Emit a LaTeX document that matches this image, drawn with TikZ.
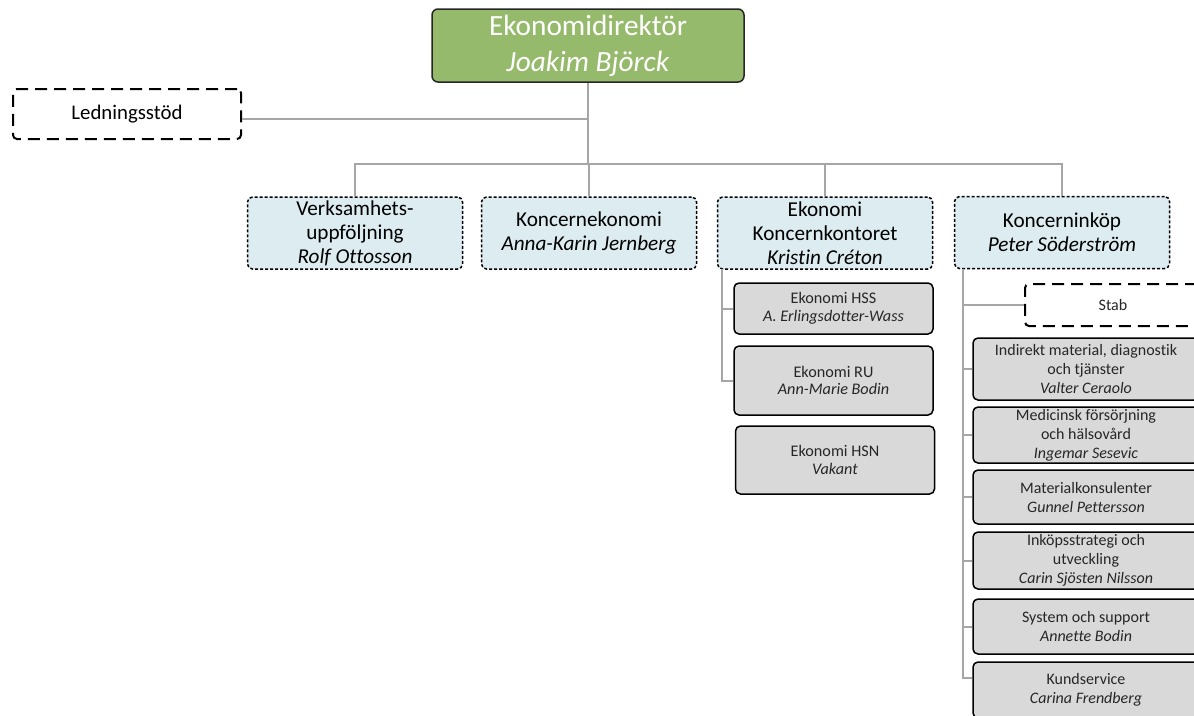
\documentclass[tikz,border=0pt]{standalone}
\usepackage{fontspec}
\setmainfont{Carlito}[Ligatures={NoCommon}]
\usepackage{tikz}
\usetikzlibrary{calc}
\definecolor{chefgreen}{RGB}{150, 186, 108}
\definecolor{unitblue}{RGB}{220, 236, 241}
\definecolor{subgray}{RGB}{217, 217, 217}
\definecolor{linegray}{RGB}{166, 166, 166}
\newcommand{\who}[1]{\\\textit{#1}}

\begin{document}
\begin{tikzpicture}[x=1pt, y=-1pt,
  chef/.style={draw=black!85, line width=1.5pt, rounded corners=6pt, fill=chefgreen, text=white, align=center, inner sep=1pt, font=\fontsize{29.3}{35.7}\selectfont, minimum width=312pt, minimum height=73pt},
  stod/.style={draw, line width=2pt, dash pattern=on 12pt off 7pt, rounded corners=4pt, fill=white, align=center, inner sep=1pt, font=\fontsize{20.8}{24}\selectfont},
  unit/.style={draw, line width=1.5pt, dash pattern=on 3pt off 2pt, rounded corners=5pt, fill=unitblue, align=center, inner sep=1pt, font=\fontsize{21.2}{24}\selectfont, minimum width=215pt, minimum height=72pt},
  sub/.style={draw, line width=1.5pt, rounded corners=5pt, fill=subgray, align=center, inner sep=1pt, text=black!85, font=\fontsize{16.2}{17.8}\selectfont, minimum width=199pt},
  inksub/.style={sub, font=\fontsize{16}{19}\selectfont, minimum width=226pt},
  conn/.style={draw=linegray, line width=2pt}]

  \useasboundingbox[fill=white] (0, 0) rectangle (1194, 715);

  \node[chef] (chef) at (588, 45.5) {Ekonomidirektör\who{Joakim Björck}};
  \node[stod, minimum width=228pt, minimum height=50pt] (led) at (127, 114) {Ledningsstöd};

  \node[unit] (verk) at (355, 233) {Verksamhets-\\uppföljning\who{Rolf Ottosson}};
  \node[unit] (kek) at (589, 233) {Koncernekonomi\who{Anna-Karin Jernberg}};
  \node[unit] (ekk) at (825, 233) {Ekonomi\\Koncernkontoret\who{Kristin Créton}};
  \node[unit] (ink) at (1062, 232.5) {Koncerninköp\who{Peter Söderström}};

  \node[sub, minimum height=51pt] (hss) at (833.5, 308.5) {Ekonomi HSS\who{A. Erlingsdotter-Wass}};
  \node[sub, minimum height=69pt] (ru) at (833.5, 380.5) {Ekonomi RU\who{Ann-Marie Bodin}};
  \node[sub, minimum height=68pt] (hsn) at (835, 460) {Ekonomi HSN\who{Vakant}};

  \node[stod, text=black!85, font=\fontsize{16}{19}\selectfont, minimum width=176pt, minimum height=42pt] (stab) at (1113, 305) {Stab};
  \node[inksub, minimum height=62pt] (indir) at (1086, 369) {Indirekt material, diagnostik\\och tjänster\who{Valter Ceraolo}};
  \node[inksub, minimum height=56pt] (medic) at (1086, 435) {Medicinsk försörjning\\och hälsovård\who{Ingemar Sesevic}};
  \node[inksub, minimum height=54pt] (matkon) at (1086, 497) {Materialkonsulenter\who{Gunnel Pettersson}};
  \node[inksub, minimum height=57pt] (strat) at (1086, 560.5) {Inköpsstrategi och\\utveckling\who{Carin Sjösten Nilsson}};
  \node[inksub, minimum height=55pt] (syst) at (1086, 626.5) {System och support\who{Annette Bodin}};
  \node[inksub, minimum height=56pt] (kund) at (1086, 690) {Kundservice\who{Carina Frendberg}};

  \coordinate (bus) at (588, 164);
  \coordinate (ledj) at (588, 118.5);
  \coordinate (ekkleg) at (722, 269);
  \coordinate (inkleg) at (963, 268.5);

  \draw[conn] (chef) -- (chef |- bus);
  \draw[conn] (ledj -| led.east) -- (ledj);
  \draw[conn] (verk) |- (bus) -| (ink);
  \draw[conn] (kek) -- (kek |- bus);
  \draw[conn] (ekk) -- (ekk |- bus);

  \draw[conn] (ekkleg) |- (hss);
  \draw[conn] (ekkleg) |- (ru);

  \draw[conn] (inkleg) |- (stab);
  \foreach \n in {indir, medic, matkon, strat, syst} {
    \draw[conn] (inkleg) |- (\n);
  }
  \draw[conn] (inkleg) |- ([yshift=12pt]kund.west);

\end{tikzpicture}
\end{document}
